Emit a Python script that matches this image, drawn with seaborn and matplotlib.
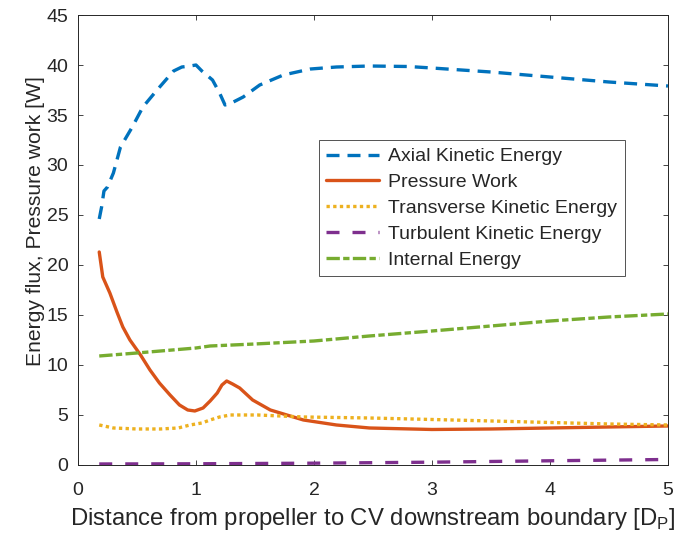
import numpy as np
import pandas as pd
import matplotlib
matplotlib.use("Agg")
import matplotlib.pyplot as plt
import seaborn as sns

# Data
x_axial = [0.18, 0.20, 0.22, 0.25, 0.30, 0.36, 0.46, 0.55, 0.67, 0.81, 0.88, 0.95, 1.00, 1.05, 1.14, 1.20, 1.246, 1.30, 1.40, 1.54, 1.74, 1.97, 2.19, 2.47, 2.8, 3.0, 3.5, 4.0, 4.5, 5.0]
y_axial = [24.6, 25.8, 27.4, 27.8, 29.2, 31.8, 33.8, 35.8, 37.5, 39.4, 39.8, 39.9, 40.0, 39.4, 38.5, 37.2, 36.0, 36.2, 36.8, 38.0, 39.0, 39.6, 39.8, 39.9, 39.85, 39.7, 39.3, 38.8, 38.3, 37.9]

x_press = [0.18, 0.21, 0.27, 0.33, 0.38, 0.44, 0.53, 0.61, 0.69, 0.78, 0.86, 0.93, 0.99, 1.06, 1.12, 1.18, 1.22, 1.26, 1.31, 1.37, 1.48, 1.63, 1.91, 2.19, 2.47, 3.0, 3.5, 4.0, 4.5, 5.0]
y_press = [21.3, 18.8, 17.2, 15.3, 13.8, 12.5, 11.0, 9.5, 8.2, 7.0, 6.0, 5.5, 5.4, 5.7, 6.4, 7.2, 8.0, 8.4, 8.1, 7.7, 6.5, 5.5, 4.5, 4.0, 3.7, 3.55, 3.6, 3.7, 3.8, 3.9]

x_trans = [0.18, 0.30, 0.50, 0.70, 0.85, 0.95, 1.05, 1.12, 1.20, 1.29, 1.52, 1.91, 2.47, 3.0, 3.5, 4.0, 4.5, 5.0]
y_trans = [4.0, 3.7, 3.6, 3.6, 3.7, 4.0, 4.2, 4.5, 4.8, 5.0, 5.0, 4.8, 4.7, 4.55, 4.4, 4.25, 4.1, 4.0]

x_turb = [0.18, 1.0, 2.0, 3.0, 4.0, 5.0]
y_turb = [0.1, 0.12, 0.18, 0.28, 0.42, 0.55]

x_int = [0.18, 0.5, 1.0, 1.12, 1.5, 2.0, 2.47, 3.0, 3.5, 4.0, 4.5, 5.0]
y_int = [10.9, 11.2, 11.7, 11.9, 12.1, 12.4, 12.9, 13.4, 13.9, 14.4, 14.8, 15.1]

labels = ["Axial Kinetic Energy", "Pressure Work", "Transverse Kinetic Energy",
          "Turbulent Kinetic Energy", "Internal Energy"]
colors = ["#0072BD", "#D95319", "#EDB120", "#7E2F8E", "#77AC30"]
dash_patterns = [(3.9, 2.4), None, (1.0, 1.0), (3.9, 3.9), (4.0, 1.0, 1.9, 1.0)]

series = [(x_axial, y_axial), (x_press, y_press), (x_trans, y_trans),
          (x_turb, y_turb), (x_int, y_int)]

sns.set_style("white")
plt.rcParams['font.family'] = ['Liberation Sans', 'DejaVu Sans']
plt.rcParams['lines.dash_capstyle'] = 'butt'

fig = plt.figure(figsize=(6.86, 5.36), dpi=100)
ax = fig.add_axes([0.1137, 0.1325, 0.86, 0.8395])

for (xs, ys), lab, c, dp in zip(series, labels, colors, dash_patterns):
    df = pd.DataFrame({"x": xs, "y": ys})
    sns.lineplot(data=df, x="x", y="y", ax=ax, color=c,
                 linewidth=2.4, label=lab, sort=False)
    ln = ax.get_lines()[-1]
    if dp is not None:
        ln.set_dashes(dp)

ax.set_xlim(0, 5)
ax.set_ylim(0, 45)
ax.set_xticks([0, 1, 2, 3, 4, 5])
ax.set_yticks(range(0, 46, 5))
ax.tick_params(direction="in", length=3.6, width=0.6, colors="#262626",
               labelsize=14, top=True, right=True, bottom=True, left=True,
               labelcolor="#262626")
ax.tick_params(axis="x", pad=12)
ax.tick_params(axis="y", pad=7)
for s in ax.spines.values():
    s.set_visible(True)
    s.set_color("#262626")
    s.set_linewidth(0.7)

ax.set_xlabel("Distance from propeller to CV downstream boundary [D$_\\mathregular{P}$]",
              fontsize=17.2, color="#262626", labelpad=5)
ax.set_ylabel("Energy flux, Pressure work [W]", fontsize=15.2, color="#262626")
ax.yaxis.set_label_coords(-0.056, 0.542)

leg = ax.legend(loc="upper left", bbox_to_anchor=(0.408, 0.722), fontsize=14,
                frameon=True, fancybox=False, edgecolor="#262626",
                handlelength=2.7, handletextpad=0.45, borderpad=0.4,
                labelspacing=0.42, borderaxespad=0)
leg.get_frame().set_linewidth(0.7)
for h, dp in zip(leg.get_lines(), dash_patterns):
    h.set_linewidth(2.4)
    if dp is not None:
        h.set_dashes(dp)

fig.savefig("out.png", dpi=100)
